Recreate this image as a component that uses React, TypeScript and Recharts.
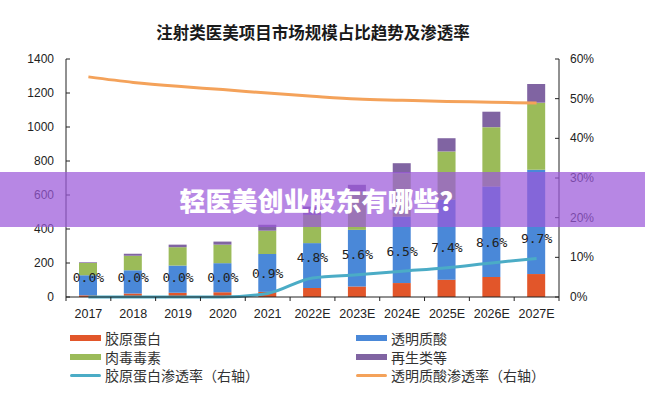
import React from 'react';
import {
  ComposedChart,
  Bar,
  Line,
  XAxis,
  YAxis,
  LabelList,
} from 'recharts';

const YEARS = ['2017', '2018', '2019', '2020', '2021', '2022E', '2023E', '2024E', '2025E', '2026E', '2027E'];

// 市场规模（左轴）
const COLLAGEN = [10, 20, 25, 28, 30, 53, 62, 82, 102, 118, 135];
const HYALURONIC = [118, 137, 160, 171, 223, 264, 333, 391, 471, 532, 613];
const BOTOX = [72, 86, 108, 109, 137, 166, 225, 255, 283, 349, 395];
const REGEN = [4, 12, 15, 18, 35, 49, 40, 59, 78, 91, 110];

// 渗透率（右轴，%）
const COLLAGEN_RATE = [0, 0, 0, 0, 0.9, 4.8, 5.6, 6.5, 7.4, 8.6, 9.7];
const HA_RATE = [55.5, 54.1, 53.1, 52.3, 51.4, 50.6, 49.9, 49.6, 49.3, 49.1, 48.9];

const LEFT_TICKS = [0, 200, 400, 600, 800, 1000, 1200, 1400];
const RIGHT_TICKS = [0, 10, 20, 30, 40, 50, 60];

const C_RED = '#e2562a';
const C_BLUE = '#4a88d8';
const C_GREEN = '#9bbb59';
const C_PURPLE = '#8064a2';
const C_TEAL = '#4bacc6';
const C_ORANGE = '#f4a25a';

const LEGEND = [
  { name: '胶原蛋白', color: C_RED, kind: 'bar' },
  { name: '透明质酸', color: C_BLUE, kind: 'bar' },
  { name: '肉毒毒素', color: C_GREEN, kind: 'bar' },
  { name: '再生类等', color: C_PURPLE, kind: 'bar' },
  { name: '胶原蛋白渗透率（右轴）', color: C_TEAL, kind: 'line' },
  { name: '透明质酸渗透率（右轴）', color: C_ORANGE, kind: 'line' },
];

const data = YEARS.map((year, i) => ({
  year,
  collagen: COLLAGEN[i],
  ha: HYALURONIC[i],
  botox: BOTOX[i],
  regen: REGEN[i],
  collagenRate: COLLAGEN_RATE[i],
  haRate: HA_RATE[i],
}));

const W = 645;
const H = 400;
const PLOT_LEFT = 66;
const PLOT_RIGHT = 559;
const PLOT_TOP = 59;
const PLOT_BOTTOM = 297;
const BAND = (PLOT_RIGHT - PLOT_LEFT) / YEARS.length;

const AXIS_COLOR = '#222';
const TICK_FONT = "'Liberation Sans', Arial, sans-serif";

const LeftTick = ({ x, y, payload }: any) => (
  <g>
    <line x1={x + 12} x2={x + 16} y1={y} y2={y} stroke={AXIS_COLOR} />
    <text x={x} y={y} textAnchor="end" dominantBaseline="central" fontSize={12} fill="#222" fontFamily={TICK_FONT}>
      {payload.value}
    </text>
  </g>
);

const RightTick = ({ x, y, payload }: any) => (
  <g>
    <line x1={x - 11} x2={x - 15} y1={y} y2={y} stroke={AXIS_COLOR} />
    <text x={x} y={y} textAnchor="start" dominantBaseline="central" fontSize={12} fill="#222" fontFamily={TICK_FONT}>
      {payload.value}%
    </text>
  </g>
);

const BottomTick = ({ x, y, payload, index }: any) => (
  <g>
    <line x1={x - BAND / 2} x2={x - BAND / 2} y1={PLOT_BOTTOM} y2={PLOT_BOTTOM + 4} stroke={AXIS_COLOR} />
    {index === YEARS.length - 1 && (
      <line x1={x + BAND / 2} x2={x + BAND / 2} y1={PLOT_BOTTOM} y2={PLOT_BOTTOM + 4} stroke={AXIS_COLOR} />
    )}
    <text
      x={x}
      y={y + 17}
      textAnchor="middle"
      dominantBaseline="central"
      fontSize={12.5}
      fill="#222"
      fontFamily="'Liberation Sans Narrow', 'Arial Narrow', 'Liberation Sans', sans-serif"
    >
      {payload.value}
    </text>
  </g>
);

const RateLabel = ({ x, y, value }: any) => (
  <text
    x={x}
    y={y - 20}
    textAnchor="middle"
    dominantBaseline="central"
    fontSize={13}
    fill="#222"
    fontFamily="'DejaVu Sans Mono', monospace"
  >
    {Number(value).toFixed(1)}%
  </text>
);

function Legend() {
  const rows = [0, 2, 4];
  const rowY = [338, 356.5, 375];
  return (
    <>
      {rows.map((start, r) =>
        [0, 1].map((col) => {
          const item = LEGEND[start + col];
          const left = col === 0 ? 70 : 356;
          return (
            <div
              key={item.name}
              style={{
                position: 'absolute',
                left,
                top: rowY[r] - 10,
                height: 20,
                display: 'flex',
                alignItems: 'center',
                fontFamily: "'Noto Sans CJK SC', sans-serif",
                fontSize: 14,
                color: '#333',
                whiteSpace: 'nowrap',
              }}
            >
              <span
                style={{
                  display: 'inline-block',
                  width: 31,
                  height: item.kind === 'bar' ? 6 : 3,
                  borderRadius: item.kind === 'bar' ? 0 : 2,
                  background: item.color,
                  marginRight: 4,
                }}
              />
              {item.name}
            </div>
          );
        })
      )}
    </>
  );
}

export default function App() {
  return (
    <div style={{ position: 'absolute', left: 0, top: 0, width: W, height: H, background: '#fff', overflow: 'hidden' }}>
      <div
        style={{
          position: 'absolute',
          left: 0,
          top: 22,
          width: 626,
          textAlign: 'center',
          fontFamily: "'Noto Sans CJK SC', sans-serif",
          fontWeight: 700,
          fontSize: 16.5,
          lineHeight: '20px',
          color: '#1a1a1a',
        }}
      >
        注射类医美项目市场规模占比趋势及渗透率
      </div>

      <div style={{ position: 'absolute', left: 0, top: 0 }}>
        <ComposedChart
          width={W}
          height={H}
          data={data}
          margin={{ top: PLOT_TOP, right: 0, bottom: H - PLOT_BOTTOM - 20, left: 0 }}
          barCategoryGap={0}
        >
          <XAxis
            dataKey="year"
            height={20}
            axisLine={{ stroke: AXIS_COLOR }}
            tickLine={false}
            tickSize={0}
            tickMargin={0}
            interval={0}
            tick={<BottomTick />}
          />
          <YAxis
            yAxisId="left"
            orientation="left"
            width={PLOT_LEFT}
            domain={[0, 1400]}
            ticks={LEFT_TICKS}
            axisLine={{ stroke: AXIS_COLOR }}
            tickLine={false}
            tickSize={0}
            tickMargin={12}
            tick={<LeftTick />}
          />
          <YAxis
            yAxisId="right"
            orientation="right"
            width={W - PLOT_RIGHT}
            domain={[0, 60]}
            ticks={RIGHT_TICKS}
            axisLine={{ stroke: AXIS_COLOR }}
            tickLine={false}
            tickSize={0}
            tickMargin={11}
            tick={<RightTick />}
          />
          <Bar yAxisId="left" dataKey="collagen" stackId="s" fill={C_RED} barSize={18} isAnimationActive={false} />
          <Bar yAxisId="left" dataKey="ha" stackId="s" fill={C_BLUE} barSize={18} isAnimationActive={false} />
          <Bar yAxisId="left" dataKey="botox" stackId="s" fill={C_GREEN} barSize={18} isAnimationActive={false} />
          <Bar yAxisId="left" dataKey="regen" stackId="s" fill={C_PURPLE} barSize={18} isAnimationActive={false} />
          <Line
            yAxisId="right"
            dataKey="haRate"
            type="monotone"
            stroke={C_ORANGE}
            strokeWidth={3}
            dot={false}
            isAnimationActive={false}
          />
          <Line
            yAxisId="right"
            dataKey="collagenRate"
            type="monotone"
            stroke={C_TEAL}
            strokeWidth={3}
            dot={false}
            isAnimationActive={false}
          >
            <LabelList dataKey="collagenRate" content={<RateLabel />} />
          </Line>
        </ComposedChart>
      </div>

      <Legend />

      <div
        style={{
          position: 'absolute',
          left: 0,
          top: 172,
          width: W,
          height: 55,
          background: 'rgba(155, 89, 217, 0.72)',
          display: 'flex',
          alignItems: 'center',
          justifyContent: 'center',
          color: '#fff',
          fontFamily: "'Noto Sans CJK SC', sans-serif",
          fontWeight: 900,
          fontSize: 26,
        }}
      >
        轻医美创业股东有哪些？
      </div>
    </div>
  );
}
